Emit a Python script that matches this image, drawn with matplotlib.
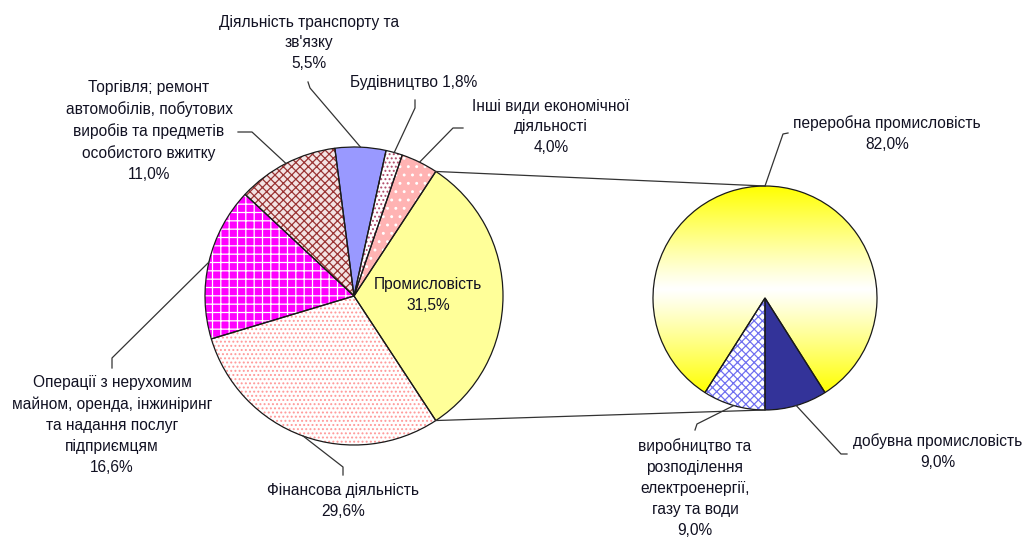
import numpy as np
import matplotlib.pyplot as plt
from matplotlib.patches import Wedge

plt.rcParams['font.family'] = ['Liberation Sans', 'DejaVu Sans']
plt.rcParams['hatch.linewidth'] = 0.9

# -------------------------
# Data
# -------------------------

main_labels = [
    'Промисловість',
    'Інші види економічної\nдіяльності',
    'Будівництво',
    "Діяльність транспорту та\nзв'язку",
    'Торгівля; ремонт\nавтомобілів, побутових\nвиробів та предметів\nособистого вжитку',
    'Операції з нерухомим\nмайном, оренда, інжиніринг\nта надання послуг\nпідприємцям',
    'Фінансова діяльність',
]
main_values = [31.5, 4.0, 1.8, 5.5, 11.0, 16.6, 29.6]

sub_labels = [
    'добувна промисловість',
    'переробна промисловість',
    'виробництво та\nрозподілення\nелектроенергії,\nгазу та води',
]
sub_values = [9.0, 82.0, 9.0]

# -------------------------
# Styles / layout (pixel coords, y down)
# -------------------------

W, H = 1027, 539

main_face = ['#FFFF99', '#FFB3B3', 'white', '#9999FF', '#F3E4E4', '#FF00FF', 'white']
main_hatch = [None, '..', '....', None, 'xxxx', '++', '....']
main_hcol = [None, 'white', '#B04A6A', None, '#993333', 'white', '#FF9999']

sub_face = ['#333399', 'white', 'white']
sub_hatch = [None, None, 'xxxx']
sub_hcol = [None, None, '#7070F0']

main_center = (354, 296)
main_r = 149
sub_center = (765, 298)
sub_r = 112

# text pos, hook point, elbow point, separator before the value
main_layout = [
    ((428, 295), None, None, '\n'),
    ((551, 127), (463, 128), (453, 128), '\n'),
    ((414, 82), (415, 100), (415, 108), ' '),
    ((309, 43), (308, 82), (310, 88), '\n'),
    ((149, 131), (238, 132), (252, 132), '\n'),
    ((112, 425), (112, 368), (112, 358), '\n'),
    ((343, 501), (343, 475), (343, 467), '\n'),
]
sub_layout = [
    ((938, 452), (847, 454), (841, 454), '\n'),
    ((887, 134), (788, 133), (783, 134), '\n'),
    ((695, 488), (695, 430), (697, 424), '\n'),
]


def P(p):
    return (p[0], H - p[1])


def pct(v):
    return f'{v:.1f}'.replace('.', ',') + '%'


fig = plt.figure(figsize=(W / 100, H / 100), dpi=100)
ax = fig.add_axes([0, 0, 1, 1])

mc = P(main_center)
sc = P(sub_center)

# -------------------------
# Pies
# -------------------------

main_wedges, _ = ax.pie(
    main_values,
    colors=main_face,
    startangle=-main_values[0] / 100 * 180,
    counterclock=True,
    center=mc,
    radius=main_r,
    wedgeprops=dict(edgecolor='none', linewidth=0),
)

sub_wedges, _ = ax.pie(
    sub_values,
    colors=sub_face,
    startangle=-90,
    counterclock=True,
    center=sc,
    radius=sub_r,
    wedgeprops=dict(edgecolor='none', linewidth=0),
)


def overlay(wedges, hatches, hcols):
    for w, h, c in zip(wedges, hatches, hcols):
        if h:
            ax.add_patch(Wedge(w.center, w.r, w.theta1, w.theta2,
                               facecolor='none', edgecolor=c,
                               linewidth=0, hatch=h, zorder=2))
        ax.add_patch(Wedge(w.center, w.r, w.theta1, w.theta2,
                           fill=False, edgecolor='#1a1a1a',
                           linewidth=0.9, zorder=3))


# gradient for "переробна промисловість"
gw = sub_wedges[1]
top = sc[1] + sub_r
bot = sc[1] + sub_r * np.sin(np.deg2rad(gw.theta2))
mid = (top + bot) / 2
ys = np.linspace(sc[1] - sub_r, sc[1] + sub_r, 300)
s = np.clip(np.abs(ys - mid) / ((top - bot) / 2), 0, 1) ** 1.1
img = np.ones((300, 2, 3))
img[:, :, 2] = (1 - s)[:, None]
im = ax.imshow(img, extent=(sc[0] - sub_r, sc[0] + sub_r, sc[1] - sub_r, sc[1] + sub_r),
               origin='lower', interpolation='bilinear', zorder=1.5)
im.set_clip_path(gw)

overlay(main_wedges, main_hatch, main_hcol)
overlay(sub_wedges, sub_hatch, sub_hcol)

# -------------------------
# Connector lines between pies
# -------------------------

w0 = main_wedges[0]
for th, sy in [(w0.theta2, 1), (w0.theta1, -1)]:
    x0 = mc[0] + main_r * np.cos(np.deg2rad(th))
    y0 = mc[1] + main_r * np.sin(np.deg2rad(th))
    ax.plot([x0, sc[0]], [y0, sc[1] + sy * sub_r], color='#333333', lw=0.9, zorder=4)

# -------------------------
# Labels and leader lines
# -------------------------


def labels(wedges, names, values, layout, center, r):
    for w, name, v, (tp, hook, elbow, sep) in zip(wedges, names, values, layout):
        ax.text(*P(tp), name + sep + pct(v), ha='center', va='center',
                fontsize=11.2, color='#111122', linespacing=1.5, zorder=5)
        if hook is None:
            continue
        a = np.deg2rad((w.theta1 + w.theta2) / 2)
        ex = center[0] + r * np.cos(a)
        ey = center[1] + r * np.sin(a)
        hx, hy = P(hook)
        bx, by = P(elbow)
        ax.plot([ex, bx, hx], [ey, by, hy], color='#333333', lw=0.9, zorder=4)


labels(main_wedges, main_labels, main_values, main_layout, mc, main_r)
labels(sub_wedges, sub_labels, sub_values, sub_layout, sc, sub_r)

ax.set_xlim(0, W)
ax.set_ylim(0, H)
ax.set_aspect('auto')
ax.axis('off')

plt.savefig('out.png', dpi=100)
